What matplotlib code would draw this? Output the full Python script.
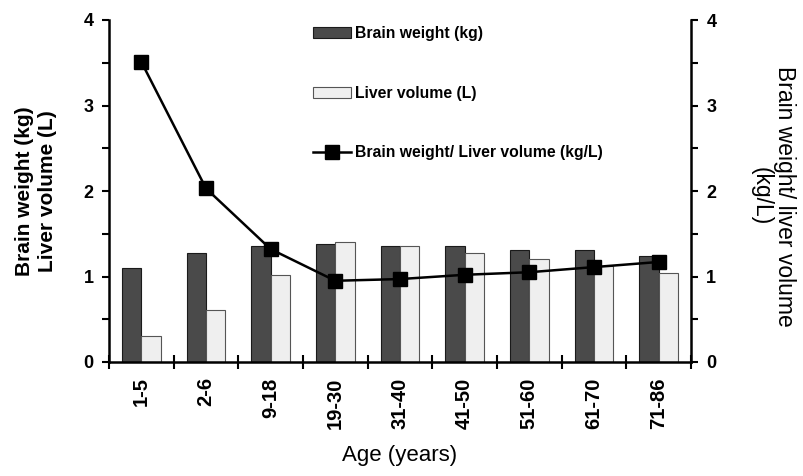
import numpy as np
import matplotlib
matplotlib.use('Agg')
import matplotlib.pyplot as plt
from matplotlib.patches import Patch
from matplotlib.lines import Line2D

plt.rcParams['font.family'] = ['Liberation Sans', 'DejaVu Sans']

ages = ['1-5', '2-6', '9-18', '19-30', '31-40', '41-50', '51-60', '61-70', '71-86']
brain_weight = [1.10, 1.27, 1.36, 1.38, 1.36, 1.36, 1.31, 1.31, 1.24]
liver_volume = [0.30, 0.61, 1.02, 1.40, 1.36, 1.28, 1.20, 1.12, 1.04]
ratio = [3.51, 2.03, 1.32, 0.95, 0.97, 1.02, 1.05, 1.11, 1.17]

x = np.arange(len(ages))
w = 0.3
dark = '#4a4a4a'
light = '#efefef'

fig = plt.figure(figsize=(8.04, 4.76), dpi=100)
ax = fig.add_axes([109/804, 1 - 362/476, 582/804, 342/476])

ax.bar(x - w/2, brain_weight, w, color=dark, edgecolor='#1a1a1a', linewidth=0.8)
ax.bar(x + w/2, liver_volume, w, color=light, edgecolor='#555555', linewidth=0.8)

ax.set_xlim(-0.5, len(ages) - 0.5)
ax.set_ylim(0, 4)
ax.spines['top'].set_visible(False)
ax.spines['right'].set_visible(False)
for s in ['left', 'bottom']:
    ax.spines[s].set_linewidth(1.8)

yt = np.arange(0, 4.01, 0.5)
ylabs = [f'{int(v)}' if v == int(v) else '' for v in yt]
ax.set_yticks(yt)
ax.set_yticklabels(ylabs, fontsize=13, fontweight='bold')
ax.tick_params(axis='y', direction='out', length=5, width=1.5, pad=6)

# category boundaries as ticks, names in the middle
ax.set_xticks(np.arange(-0.5, len(ages)))
ax.set_xticklabels([])
ax.tick_params(axis='x', which='major', direction='inout', length=10, width=1.5)
ax.set_xticks(x, minor=True)
ax.set_xticklabels(ages, minor=True, rotation=90, fontsize=14.5, fontweight='bold')
ax.tick_params(axis='x', which='minor', length=0, pad=11)

ax.set_ylabel('Brain weight (kg)\nLiver volume (L)', fontsize=15, fontweight='bold', linespacing=1.3)
ax.yaxis.set_label_coords((36 - 109) / 582, 0.5)
ax.yaxis.label.set_va('center')
ax.set_xlabel('Age (years)', fontsize=16)
ax.xaxis.set_label_coords(0.5, (362 - 455) / 342)
ax.xaxis.label.set_va('center')

ax2 = ax.twinx()
ax2.plot(x, ratio, color='black', linewidth=1.8, marker='s', markersize=9.5,
         markerfacecolor='black', markeredgecolor='black')
ax2.set_ylim(0, 4)
ax2.set_xlim(-0.5, len(ages) - 0.5)
for s in ['top', 'left', 'bottom']:
    ax2.spines[s].set_visible(False)
ax2.spines['right'].set_linewidth(1.8)
ax2.set_yticks(yt)
ax2.set_yticklabels(ylabs, fontsize=13, fontweight='bold')
ax2.tick_params(axis='y', direction='out', length=5, width=1.5, pad=6)
ax2.set_ylabel('Brain weight/ liver volume\n(kg/L)', fontsize=16.5, rotation=-90, linespacing=1.0)
ax2.yaxis.set_label_coords((773 - 109) / 582, (362 - 196) / 342)
ax2.yaxis.label.set_va('center')
ax2.yaxis.label.set_ha('center')

handles = [
    Patch(facecolor=dark, edgecolor='#1a1a1a', linewidth=0.8),
    Patch(facecolor=light, edgecolor='#555555', linewidth=0.8),
    Line2D([0], [0], color='black', linewidth=1.8, marker='s', markersize=9.5),
]
labels = ['Brain weight (kg)', 'Liver volume (L)', 'Brain weight/ Liver volume (kg/L)']
fig.legend(handles, labels, loc='upper left', bbox_to_anchor=(313/804, 1 - 26/476),
           frameon=False, prop={'weight': 'bold', 'size': 11.3}, handlelength=2.42,
           handletextpad=0.25, labelspacing=2.85, borderpad=0, borderaxespad=0)

fig.savefig('out.png', dpi=100)
